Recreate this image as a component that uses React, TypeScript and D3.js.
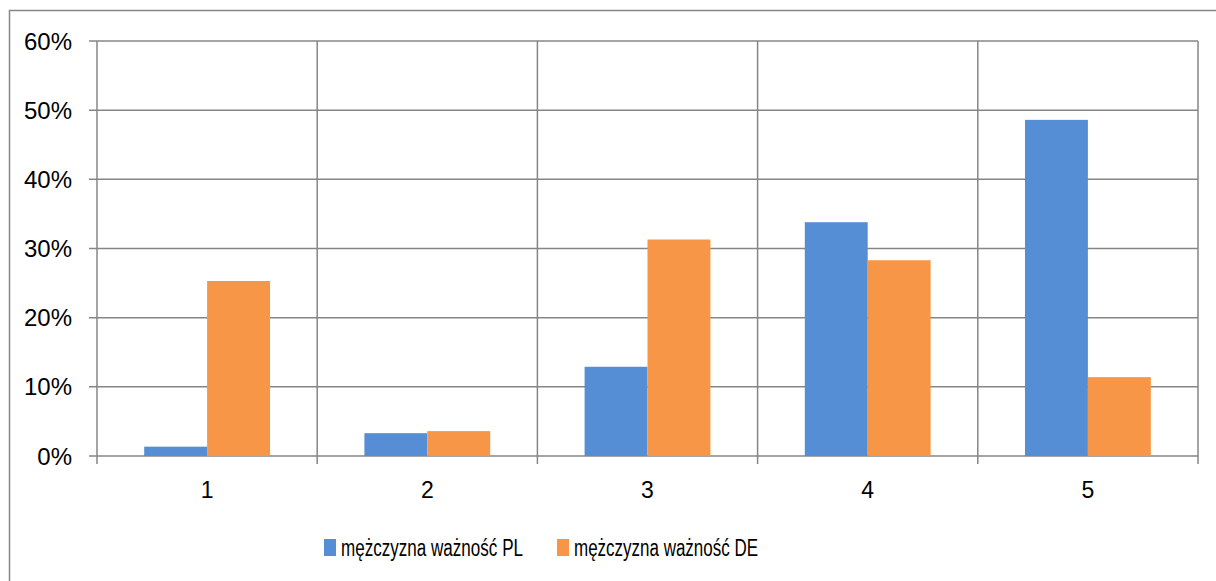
import React from "react";
import * as d3 from "d3";

const categories = ["1", "2", "3", "4", "5"];
const seriesNames = ["mężczyzna ważność PL", "mężczyzna ważność DE"];
const valuesPL = [0.0135, 0.033, 0.129, 0.338, 0.486];
const valuesDE = [0.253, 0.036, 0.313, 0.283, 0.114];
const yTicks = [0, 0.1, 0.2, 0.3, 0.4, 0.5, 0.6];
const colors = ["#558ED5", "#F79646"];

export default function App() {
  const W = 1216, H = 581;
  const left = 97, right = 1198, top = 41, bottom = 456;
  const x = d3.scaleBand<string>().domain(categories).range([left, right]).paddingInner(0).paddingOuter(0);
  const y = d3.scaleLinear().domain([0, 0.6]).range([bottom, top]);
  const bw = x.bandwidth();
  const barW = bw / 3.5;
  const series = [valuesPL, valuesDE];
  const grid = "#868686";
  const font = "'Liberation Sans', Arial, sans-serif";
  const fmt = d3.format(".0%");
  const legendX = [324, 557];
  const legendLen = [182, 184];
  return (
    <svg width={W} height={H} style={{ position: "absolute", left: 0, top: 0, background: "#fff" }}>
      <rect x={9.5} y={10.5} width={W + 10} height={H + 10} fill="#fff" stroke={grid} strokeWidth={1.5} />
      {yTicks.map((t) => (
        <g key={t}>
          <line x1={left - 8} x2={right} y1={y(t)} y2={y(t)} stroke={grid} strokeWidth={1.5} />
          <text x={72} y={y(t) + 8.5} textAnchor="end" fontFamily={font} fontSize={24} fill="#000">
            {fmt(t)}
          </text>
        </g>
      ))}
      {[...categories.map((c) => x(c) as number), right].map((px, i) => (
        <line key={i} x1={px} x2={px} y1={top} y2={bottom + 8} stroke={grid} strokeWidth={1.5} />
      ))}
      {categories.map((c, i) => {
        const x0 = (x(c) as number) + (bw - 2 * barW) / 2;
        return (
          <g key={c}>
            {series.map((vals, s) => (
              <rect key={s} x={x0 + s * barW} y={y(vals[i])} width={barW} height={bottom - y(vals[i])} fill={colors[s]} />
            ))}
            <text x={(x(c) as number) + bw / 2} y={498} textAnchor="middle" fontFamily={font} fontSize={23} fill="#000">
              {c}
            </text>
          </g>
        );
      })}
      {seriesNames.map((n, s) => {
        const lx = legendX[s];
        return (
          <g key={n}>
            <rect x={lx} y={539} width={12} height={17} fill={colors[s]} />
            <text
              x={lx + 17}
              y={556}
              fontFamily={font}
              fontSize={23}
              textLength={legendLen[s]}
              lengthAdjust="spacingAndGlyphs"
              fill="#000"
            >
              {n}
            </text>
          </g>
        );
      })}
    </svg>
  );
}
